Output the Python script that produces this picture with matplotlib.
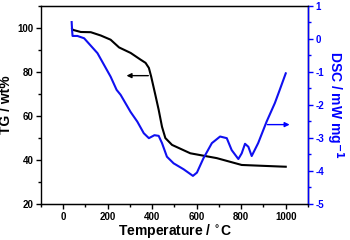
import numpy as np
import matplotlib
matplotlib.use("Agg")
import matplotlib.pyplot as plt
from matplotlib.ticker import MultipleLocator

plt.rcParams['font.family'] = ['Liberation Sans', 'DejaVu Sans']
plt.rcParams['font.weight'] = 'bold'
plt.rcParams['axes.unicode_minus'] = False
plt.rcParams['mathtext.default'] = 'bf'

# TG curve (black)
tg_T = [40, 42, 79, 124, 169, 213, 251, 303, 347, 370, 385, 395, 414, 429, 444, 459, 489, 571, 690, 802, 899, 973, 1000]
tg_w = [99.5, 99.0, 98.0, 97.9, 96.4, 94.5, 91.0, 88.5, 85.5, 84.0, 81.7, 77.9, 69.5, 62.7, 55.0, 49.9, 46.8, 43.0, 40.8, 37.7, 37.3, 37.0, 36.9]

# DSC curve (blue)
dsc_T = [38, 40, 42, 64, 94, 154, 213, 240, 258, 303, 333, 362, 385, 410, 429, 444, 466, 496, 541, 583, 601, 630, 668, 705, 735, 757, 787, 802, 817, 832, 847, 876, 914, 951, 973, 1000]
dsc_v = [0.5, 0.25, 0.08, 0.08, 0.01, -0.44, -1.15, -1.55, -1.70, -2.22, -2.51, -2.86, -3.01, -2.92, -2.94, -3.16, -3.57, -3.77, -3.95, -4.15, -4.05, -3.62, -3.16, -2.96, -3.01, -3.37, -3.64, -3.47, -3.18, -3.27, -3.55, -3.16, -2.51, -1.95, -1.55, -1.05]

fig = plt.figure(figsize=(3.5, 2.4), dpi=100)
ax1 = fig.add_axes([0.117, 0.15, 0.763, 0.827])
ax2 = ax1.twinx()

ax1.plot(tg_T, tg_w, color='black', lw=1.5)
ax2.plot(dsc_T, dsc_v, color='#1010f0', lw=1.5)

ax1.set_xlim(-100, 1100)
ax1.set_ylim(20, 110)
ax2.set_ylim(-5, 1)

ax1.xaxis.set_major_locator(MultipleLocator(200))
ax1.xaxis.set_minor_locator(MultipleLocator(100))
ax1.yaxis.set_major_locator(MultipleLocator(20))
ax1.yaxis.set_minor_locator(MultipleLocator(10))
ax2.yaxis.set_major_locator(MultipleLocator(1))
ax2.yaxis.set_minor_locator(MultipleLocator(0.5))

ax1.set_yticks([20, 40, 60, 80, 100])
ax1.tick_params(which='both', direction='out', labelsize=7, top=False, pad=2)
ax1.tick_params(which='major', length=3.5, width=1)
ax1.tick_params(which='minor', length=2, width=1)
ax2.tick_params(which='both', direction='out', labelsize=7, colors='blue', pad=2)
ax2.tick_params(which='major', length=3.5, width=1)
ax2.tick_params(which='minor', length=2, width=1)
for lab in ax1.get_xticklabels() + ax1.get_yticklabels() + ax2.get_yticklabels():
    lab.set_fontweight('bold')

for sp in ax1.spines.values():
    sp.set_linewidth(1)
ax2.spines['right'].set_color('blue')
ax2.spines['right'].set_linewidth(1)
ax2.spines['left'].set_visible(False)

ax1.set_xlabel('Temperature / $^{\\circ}$C', fontsize=10, fontweight='bold', labelpad=0)
ax1.set_ylabel('TG / wt%', fontsize=10, fontweight='bold', labelpad=3)
ax2.set_ylabel('DSC / mW mg$^{-1}$', fontsize=10, fontweight='bold', color='blue',
               rotation=270, labelpad=15)

# arrows
ax1.annotate('', xy=(272, 78.2), xytext=(395, 78.2),
             arrowprops=dict(arrowstyle='-|>', color='black', lw=1, mutation_scale=7))
ax2.annotate('', xy=(1030, -2.6), xytext=(905, -2.6),
             arrowprops=dict(arrowstyle='-|>', color='blue', lw=1, mutation_scale=7))

fig.savefig('out.png', dpi=100)
